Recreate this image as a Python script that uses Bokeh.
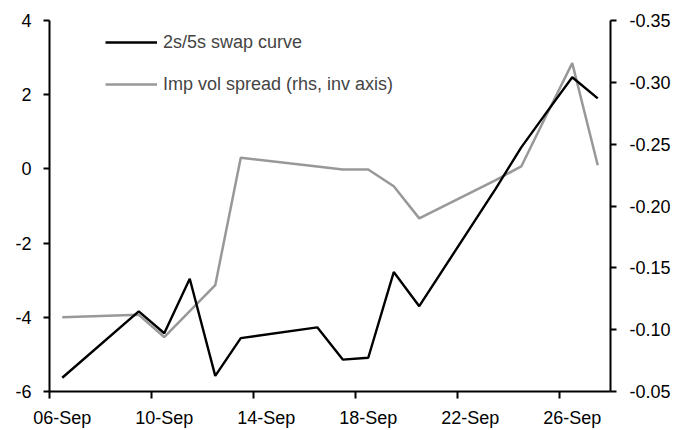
from datetime import datetime, timedelta
from bokeh.plotting import figure
from bokeh.models import (Range1d, LinearAxis, DatetimeAxis, FixedTicker,
                          PrintfTickFormatter, DatetimeTickFormatter,
                          CustomJSTickFormatter, Legend, LegendItem,
                          ColumnDataSource)
from bokeh.embed import file_html
from bokeh.resources import INLINE

# ---- data ----
dates = ["2013-09-06", "2013-09-09", "2013-09-10", "2013-09-11", "2013-09-12",
         "2013-09-13", "2013-09-16", "2013-09-17", "2013-09-18", "2013-09-19",
         "2013-09-20", "2013-09-23", "2013-09-24", "2013-09-25", "2013-09-26",
         "2013-09-27"]
curve_2s5s = [-5.63, -3.84, -4.43, -2.96, -5.58, -4.56, -4.27, -5.14, -5.09,
              -2.78, -3.70, -0.53, 0.58, 1.53, 2.47, 1.90]
vol_spread = [-0.110, -0.112, -0.094, -0.115, -0.136, -0.239, -0.232, -0.2295,
              -0.2295, -0.216, -0.190, -0.221, -0.232, -0.274, -0.3155, -0.233]
x_tick_dates = ["2013-09-06", "2013-09-10", "2013-09-14", "2013-09-18",
                "2013-09-22", "2013-09-26"]
x_start, x_end = "2013-09-06", "2013-09-28"
left_ticks = [-6, -4, -2, 0, 2, 4]
right_ticks = [-0.35, -0.30, -0.25, -0.20, -0.15, -0.10, -0.05]
series_names = ["2s/5s swap curve", "Imp vol spread (rhs, inv axis)"]

FONT = "Liberation Sans"
FS = "18px"
EPOCH = datetime(1970, 1, 1)
HALF_DAY = timedelta(hours=12)


def to_dt(s):
    return datetime.strptime(s, "%Y-%m-%d")


def to_ms(d):
    return (d - EPOCH).total_seconds() * 1000.0


xs = [to_dt(d) + HALF_DAY for d in dates]
src = ColumnDataSource(dict(x=xs, a=curve_2s5s, b=vol_spread))

p = figure(width=686, height=430, x_axis_location=None,
           x_range=Range1d(to_dt(x_start), to_dt(x_end)),
           y_range=Range1d(-6, 4),
           output_backend="svg", toolbar_location=None,
           min_border_left=49, min_border_right=76,
           min_border_top=20, min_border_bottom=39)
p.outline_line_color = None
p.xgrid.visible = False
p.ygrid.visible = False
p.extra_y_ranges = {"rhs": Range1d(-0.05, -0.35)}

r_gray = p.line("x", "b", source=src, y_range_name="rhs", line_color="#989898",
                line_width=2.5)
r_black = p.line("x", "a", source=src, line_color="black", line_width=2.4)


def style_axis(ax):
    ax.axis_line_color = "black"
    ax.axis_line_width = 2
    ax.major_tick_line_color = "black"
    ax.major_tick_line_width = 2
    ax.minor_tick_line_color = None
    ax.major_tick_in = 0
    ax.major_tick_out = 6
    ax.major_label_text_font = FONT
    ax.major_label_text_font_size = FS
    ax.major_label_text_color = "black"


# x axis: tick marks at day boundaries, labels centred on the day
xa_ticks = DatetimeAxis(ticker=FixedTicker(ticks=[to_ms(to_dt(d)) for d in x_tick_dates]),
                        formatter=CustomJSTickFormatter(code="return ''"))
style_axis(xa_ticks)
xa_ticks.major_tick_out = 7
xa_ticks.major_label_standoff = 0
p.add_layout(xa_ticks, "below")

xa_labels = DatetimeAxis(ticker=FixedTicker(ticks=[to_ms(to_dt(d) + HALF_DAY) for d in x_tick_dates]),
                         formatter=DatetimeTickFormatter(days="%d-%b", months="%d-%b",
                                                         hours="%d-%b", years="%d-%b"))
style_axis(xa_labels)
xa_labels.axis_line_color = None
xa_labels.major_tick_line_color = None
xa_labels.major_tick_out = 0
xa_labels.major_label_standoff = 9
p.add_layout(xa_labels, "below")

ya = p.yaxis[0]
style_axis(ya)
ya.ticker = FixedTicker(ticks=left_ticks)
ya.formatter = PrintfTickFormatter(format="%d")
ya.major_label_standoff = 12

ra = LinearAxis(y_range_name="rhs", ticker=FixedTicker(ticks=right_ticks),
                formatter=PrintfTickFormatter(format="%.2f"))
style_axis(ra)
ra.major_label_standoff = 13
p.add_layout(ra, "right")

legend = Legend(items=[LegendItem(label=series_names[0], renderers=[r_black]),
                       LegendItem(label=series_names[1], renderers=[r_gray])],
                location=(56, 295), padding=0, margin=0, spacing=18,
                glyph_width=52, glyph_height=24, label_height=24,
                label_standoff=6, label_text_font=FONT,
                label_text_font_size=FS, border_line_color=None,
                background_fill_alpha=0)
p.add_layout(legend)

open("out.html", "w").write(file_html(p, INLINE))
